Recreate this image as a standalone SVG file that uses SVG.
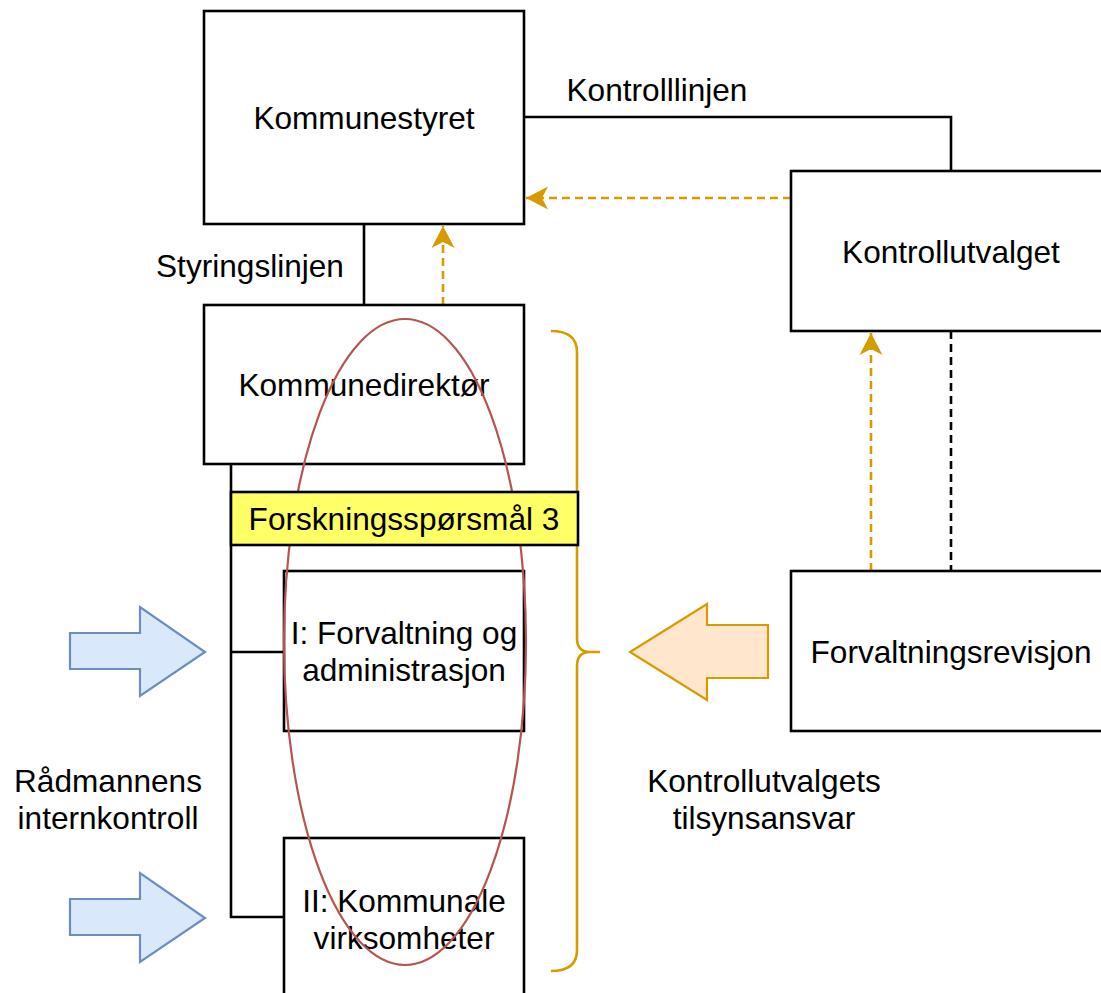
<svg xmlns="http://www.w3.org/2000/svg" width="1101" height="993" viewBox="0 0 1101 993">
<style>
text{font-family:"Liberation Sans",Arial,sans-serif;font-size:31.6px;fill:#000;text-anchor:middle}
.box{fill:#fff;stroke:#000;stroke-width:2.6}
.ln{fill:none;stroke:#000;stroke-width:2.6}
.dsh{fill:none;stroke:#d79b00;stroke-width:2.6;stroke-dasharray:8 5}
.dshk{fill:none;stroke:#000;stroke-width:2.6;stroke-dasharray:8 5}
.blue{fill:#dae8fc;stroke:#6c8ebf;stroke-width:2.2}
.org{fill:#ffe6cc;stroke:#d79b00;stroke-width:2.2}
</style>
<defs>
<marker id="ah" viewBox="-23 -12 24 24" refX="0" refY="0" markerWidth="24" markerHeight="24" markerUnits="userSpaceOnUse" orient="auto">
<path d="M0,0 L-22,-11.5 L-16,0 L-22,11.5 Z" fill="#d79b00"/>
</marker>
</defs>
<rect width="1101" height="993" fill="#fff"/>
<g id="connectors">
<path class="ln" d="M524,117 H951 V171"/>
<path class="dsh" d="M791,198 H526" marker-end="url(#ah)"/>
<path class="ln" d="M364,224 V305"/>
<path class="dsh" d="M443,305 V226" marker-end="url(#ah)"/>
<path class="ln" d="M231,464 V917 H284 M231,652 H284"/>
<path class="dsh" d="M871,571 V333" marker-end="url(#ah)"/>
<path class="dshk" d="M951,331 V571"/>
</g>
<g id="kommunestyret"><rect class="box" x="204" y="11" width="320" height="213"/><text x="364" y="129">Kommunestyret</text></g>
<g id="kontrolllinjen"><text x="657" y="101">Kontrolllinjen</text></g>
<g id="kontrollutvalget"><rect class="box" x="791" y="171" width="320" height="160"/><text x="951" y="263">Kontrollutvalget</text></g>
<g id="styringslinjen"><text x="250" y="277">Styringslinjen</text></g>
<g id="kommunedirektor"><rect class="box" x="204" y="305" width="320" height="159"/><text x="364" y="396">Kommunedirektør</text></g>
<g id="forvaltning"><rect class="box" x="284" y="571" width="240" height="160"/><text x="404" y="644">I: Forvaltning og</text><text x="404" y="681">administrasjon</text></g>
<g id="kommunale"><rect class="box" x="284" y="838" width="240" height="165"/><text x="404" y="912">II: Kommunale</text><text x="404" y="949">virksomheter</text></g>
<g id="forvaltningsrevisjon"><rect class="box" x="791" y="571" width="320" height="160"/><text x="951" y="663">Forvaltningsrevisjon</text></g>
<g id="ellipse"><ellipse cx="405" cy="642" rx="121" ry="323" fill="none" stroke="#b85450" stroke-width="2.2"/></g>
<g id="brace"><path fill="none" stroke="#d79b00" stroke-width="2.6" d="M551,331 Q577,331 577,352 L577,638 Q577,652 590,652 L600,652 M590,652 Q577,652 577,666 L577,950 Q577,971 551,971"/></g>
<g id="forskningssporsmal"><rect x="231" y="492" width="347" height="53" fill="#ffff66" stroke="#000" stroke-width="2.6"/><text x="404" y="530">Forskningsspørsmål 3</text></g>
<g id="blue-arrow-1"><polygon class="blue" points="70,633 140,633 140,607 205,652 140,696 140,669 70,669"/></g>
<g id="blue-arrow-2"><polygon class="blue" points="70,899 140,899 140,873 205,918 140,962 140,935 70,935"/></g>
<g id="radmannens"><text x="108" y="792">Rådmannens</text><text x="108" y="829">internkontroll</text></g>
<g id="orange-arrow"><polygon class="org" points="768,625 707,625 707,604 630,652 707,700 707,678 768,678"/></g>
<g id="tilsynsansvar"><text x="764" y="792">Kontrollutvalgets</text><text x="764" y="829">tilsynsansvar</text></g>
</svg>
